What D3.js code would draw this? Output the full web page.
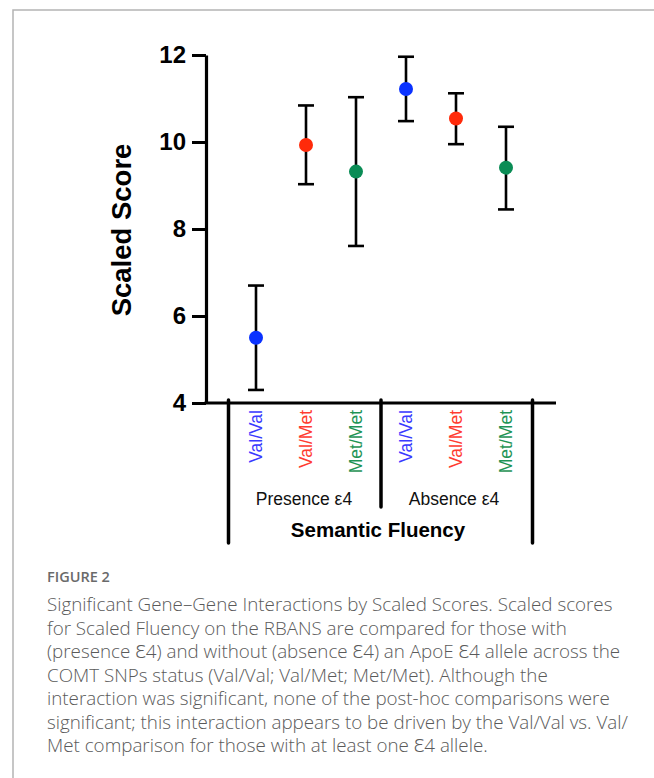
<!DOCTYPE html>
<html lang="en">
<head>
<meta charset="UTF-8">
<title>Semantic Fluency</title>
<script src="https://d3js.org/d3.v7.min.js"></script>
<style>
  body { margin: 0; background: #fff; }
</style>
</head>
<body>
<div id="chart"></div>
<script>
// data
const groups = ["Presence ε4", "Absence ε4"];
const genotypes = ["Val/Val", "Val/Met", "Met/Met"];
const means = [5.5, 9.93, 9.32, 11.22, 10.54, 9.41];
const lowers = [4.3, 9.03, 7.61, 10.48, 9.95, 8.45];
const uppers = [6.7, 10.84, 11.03, 11.96, 11.12, 10.35];
const yTicks = [4, 6, 8, 10, 12];
const xTitle = "Semantic Fluency";
const yTitle = "Scaled Score";
const captionHead = "FIGURE 2";
const captionLines = [
  "Significant Gene–Gene Interactions by Scaled Scores. Scaled scores",
  "for Scaled Fluency on the RBANS are compared for those with",
  "(presence Ɛ4) and without (absence Ɛ4) an ApoE Ɛ4 allele across the",
  "COMT SNPs status (Val/Val; Val/Met; Met/Met). Although the",
  "interaction was significant, none of the post-hoc comparisons were",
  "significant; this interaction appears to be driven by the Val/Val vs. Val/",
  "Met comparison for those with at least one Ɛ4 allele."
];

const colors = { "Val/Val": "#0a32ff", "Val/Met": "#ff2a0a", "Met/Met": "#0a8c55" };
const labelColors = { "Val/Val": "#3a3aff", "Val/Met": "#ff3b30", "Met/Met": "#1f9455" };

const rows = [];
groups.forEach((g, gi) => genotypes.forEach((t, ti) => {
  const i = gi * 3 + ti;
  rows.push({ key: g + "|" + t, group: g, geno: t, mean: means[i], lo: lowers[i], hi: uppers[i] });
}));

const W = 654, H = 778;
const svg = d3.select("#chart").append("svg")
  .attr("width", W).attr("height", H);

// page frame
svg.append("path")
  .attr("d", `M13,${H} V10 H${W}`)
  .attr("fill", "none").attr("stroke", "#b4b4b4").attr("stroke-width", 1.5);

const plotL = 206, plotR = 556, plotT = 55, plotB = 403;
const font = "'Liberation Sans', Arial, sans-serif";

const x = d3.scalePoint().domain(rows.map(d => d.key)).range([plotL, plotR]).padding(1);
const y = d3.scaleLinear().domain([4, 12]).range([plotB, plotT]);

// y axis
const yAxis = svg.append("g")
  .attr("transform", `translate(${plotL},0)`)
  .call(d3.axisLeft(y).tickValues(yTicks).tickSize(14).tickSizeOuter(0).tickPadding(6));
yAxis.select(".domain").attr("stroke-width", 3.2);
yAxis.selectAll(".tick line").attr("stroke-width", 3);
yAxis.selectAll(".tick text")
  .attr("font-family", font).attr("font-weight", "bold").attr("font-size", 24).attr("fill", "#000");

// x baseline
const xAxis = svg.append("g")
  .attr("transform", `translate(0,${plotB})`)
  .call(d3.axisBottom(x).tickSize(0).tickSizeOuter(0).tickFormat(""));
xAxis.select(".domain").attr("stroke-width", 3.2).attr("d", `M${plotL - 1.5},0H${plotR}`);

// group dividers
const step = x.step();
const keys = x.domain();
const dividers = [
  { x: x(keys[0]) - step * 0.55, y2: 543 },
  { x: (x(keys[2]) + x(keys[3])) / 2, y2: 507 },
  { x: x(keys[5]) + step * 0.53, y2: 543 }
];
svg.append("g").selectAll("line").data(dividers).join("line")
  .attr("x1", d => d.x).attr("x2", d => d.x)
  .attr("y1", plotB - 3).attr("y2", d => d.y2)
  .attr("stroke", "#000").attr("stroke-width", 3.5).attr("stroke-linecap", "round");

// genotype labels
svg.append("g").selectAll("text").data(rows).join("text")
  .attr("transform", d => `translate(${x(d.key) + 6},${plotB + 7}) rotate(-90)`)
  .attr("text-anchor", "end")
  .attr("font-family", font).attr("font-size", 17.5)
  .attr("fill", d => labelColors[d.geno])
  .text(d => d.geno);

// group labels
svg.append("g").selectAll("text").data(groups).join("text")
  .attr("x", (g, gi) => (x(keys[gi * 3]) + x(keys[gi * 3 + 2])) / 2 - 2)
  .attr("y", 505)
  .attr("text-anchor", "middle")
  .attr("font-family", font).attr("font-size", 17.5).attr("fill", "#111")
  .text(g => g);

svg.append("text")
  .attr("x", (x(keys[0]) + x(keys[5])) / 2 - 3)
  .attr("y", 537)
  .attr("text-anchor", "middle")
  .attr("font-family", font).attr("font-weight", "bold").attr("font-size", 20.5)
  .text(xTitle);

svg.append("text")
  .attr("transform", `translate(131,${(plotT + plotB) / 2 + 1}) rotate(-90)`)
  .attr("text-anchor", "middle")
  .attr("font-family", font).attr("font-weight", "bold").attr("font-size", 27.5)
  .text(yTitle);

// error bars
const cap = 8;
const bars = svg.append("g").selectAll("g").data(rows).join("g");
bars.append("line")
  .attr("x1", d => x(d.key)).attr("x2", d => x(d.key))
  .attr("y1", d => y(d.lo)).attr("y2", d => y(d.hi))
  .attr("stroke", "#000").attr("stroke-width", 2.6);
bars.append("line")
  .attr("x1", d => x(d.key) - cap).attr("x2", d => x(d.key) + cap)
  .attr("y1", d => y(d.hi)).attr("y2", d => y(d.hi))
  .attr("stroke", "#000").attr("stroke-width", 2.6);
bars.append("line")
  .attr("x1", d => x(d.key) - cap).attr("x2", d => x(d.key) + cap)
  .attr("y1", d => y(d.lo)).attr("y2", d => y(d.lo))
  .attr("stroke", "#000").attr("stroke-width", 2.6);
bars.append("circle")
  .attr("cx", d => x(d.key)).attr("cy", d => y(d.mean))
  .attr("r", 7).attr("fill", d => colors[d.geno]);

// caption
const capFont = "'Open Sans', 'Noto Sans', sans-serif";
svg.append("text")
  .attr("x", 47).attr("y", 582)
  .attr("font-family", capFont).attr("font-weight", 600).attr("font-size", 14.5).attr("fill", "#6a6a6a")
  .text(captionHead);
svg.append("g").selectAll("text").data(captionLines).join("text")
  .attr("x", 47).attr("y", (d, i) => 611 + i * 23.5)
  .attr("font-family", capFont).attr("font-weight", 300).attr("font-size", 18.8).attr("fill", "#5a5a5a")
  .text(d => d);
</script>
</body>
</html>
